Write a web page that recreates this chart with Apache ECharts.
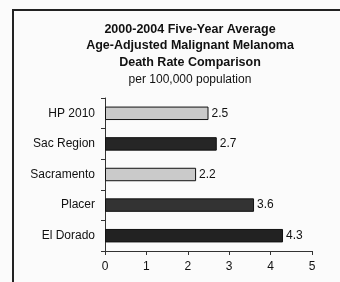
<!doctype html>
<html lang="en">
<head>
    <meta charset="UTF-8">
    <title>Melanoma Death Rate</title>
    <script src="https://cdn.jsdelivr.net/npm/echarts@6/dist/echarts.min.js"></script>
</head>
<body style="margin:0;background-color:#fbfbfb;">
<div id="chart" style="width:340px;height:282px;"></div>
<script>
    // data, top to bottom as in the picture
    var categories = ['HP 2010', 'Sac Region', 'Sacramento', 'Placer', 'El Dorado'];
    var rates = [2.5, 2.7, 2.2, 3.6, 4.3];
    var barColors = ['#cacaca', '#262626', '#cacaca', '#333333', '#222222'];
    var titleLines = ['2000-2004 Five-Year Average', 'Age-Adjusted Malignant Melanoma', 'Death Rate Comparison'];
    var subTitle = 'per 100,000 population';

    var myChart = echarts.init(document.getElementById('chart'));

    var option = {
        backgroundColor: '#fbfbfb',
        animation: false,
        title: {
            text: titleLines.join('\n'),
            subtext: subTitle,
            left: 185,
            top: 16,
            textAlign: 'center',
            itemGap: 3,
            textStyle: {
                fontFamily: 'Liberation Sans',
                fontSize: 12.5,
                fontWeight: 'bold',
                color: '#111',
                lineHeight: 16.5
            },
            subtextStyle: {
                fontFamily: 'Liberation Sans',
                fontSize: 12,
                color: '#111'
            }
        },
        graphic: [
            { type: 'line', shape: { x1: 12, y1: 10, x2: 340, y2: 10 }, style: { stroke: '#222', lineWidth: 2 } },
            { type: 'line', shape: { x1: 13, y1: 10, x2: 13, y2: 282 }, style: { stroke: '#222', lineWidth: 2 } }
        ],
        grid: { left: 105, right: 28, top: 98, bottom: 31 },
        xAxis: {
            type: 'value',
            min: 0,
            max: 5,
            interval: 1,
            splitLine: { show: false },
            axisLine: { show: true, lineStyle: { color: '#333' } },
            axisTick: { show: true, length: 4, lineStyle: { color: '#333' } },
            axisLabel: { fontFamily: 'Liberation Sans', fontSize: 12, color: '#111', margin: 10 }
        },
        yAxis: {
            type: 'category',
            inverse: true,
            data: categories,
            axisLine: { lineStyle: { color: '#333' } },
            axisTick: { show: true, length: 4, lineStyle: { color: '#333' } },
            axisLabel: { fontFamily: 'Liberation Sans', fontSize: 12, color: '#111', margin: 10 }
        },
        series: [{
            type: 'bar',
            data: rates.map(function (v, i) {
                return { value: v, itemStyle: { color: barColors[i] } };
            }),
            barCategoryGap: '56%',
            itemStyle: { borderColor: '#111', borderWidth: 1 },
            label: {
                show: true,
                position: 'right',
                distance: 3,
                fontFamily: 'Liberation Sans',
                fontSize: 12,
                color: '#111'
            }
        }]
    };
    myChart.setOption(option);
</script>
</body>
</html>
